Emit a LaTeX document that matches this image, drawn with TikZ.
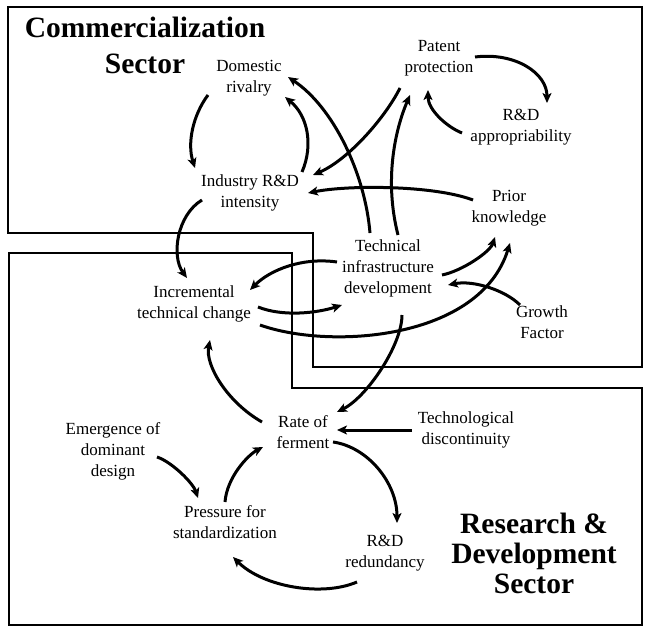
\documentclass[tikz,border=0pt]{standalone}
\usepackage{fontspec}
\setmainfont{Liberation Serif}
\usetikzlibrary{arrows.meta}
\begin{document}
\begin{tikzpicture}[x=1pt,y=-1pt,
  lbl/.style={align=center, font=\fontsize{17}{21}\selectfont, inner sep=1pt},
  ttl/.style={align=center, font=\bfseries\fontsize{29.5}{36}\selectfont, inner sep=0pt},
  arr/.style={-{Stealth[length=10pt,width=9pt,inset=2.5pt]}, line width=3pt},
  sector/.style={line width=1.3pt}]
\useasboundingbox (0,0) rectangle (652,636);
% sectors
\draw[sector] (8,7) -- (642,7) -- (642,367) -- (313,367) -- (313,233) -- (8,233) -- cycle;
\draw[sector] (9,253) -- (292,253) -- (292,388) -- (642,388) -- (642,625) -- (9,625) -- cycle;
% titles
\node[ttl] (commtitle) at (145,45) {Commercialization\\Sector};
\node[ttl,font=\bfseries\fontsize{29.5}{30}\selectfont] (rdtitle) at (534,553) {Research \&\\Development\\Sector};
% nodes
\node[lbl] (dom) at (249,78) {Domestic\\rivalry};
\node[lbl] (pat) at (439,58) {Patent\\protection};
\node[lbl] (app) at (521,127) {R\&D\\appropriability};
\node[lbl] (ind) at (250,193) {Industry R\&D\\intensity};
\node[lbl] (pri) at (509,208) {Prior\\knowledge};
\node[lbl] (tec) at (388,268) {Technical\\infrastructure\\development};
\node[lbl] (inc) at (194,304) {Incremental\\technical change};
\node[lbl] (gro) at (542,322) {Growth\\Factor};
\node[lbl] (rat) at (303,432) {Rate of\\ferment};
\node[lbl] (tdi) at (466,430) {Technological\\discontinuity};
\node[lbl] (emd) at (113,451) {Emergence of\\dominant\\design};
\node[lbl] (pre) at (225,522) {Pressure for\\standardization};
\node[lbl] (red) at (385,553) {R\&D\\redundancy};
% connectors
\draw[arr] ([shift={(-41,17)}]dom.center) .. controls +(-15,20) and +(-8,-25) .. ([shift={(-55,-25)}]ind.center);
\draw[arr] ([shift={(52,-21)}]ind.center) .. controls +(12,-28) and +(22,18) .. ([shift={(36,19)}]dom.center);
\draw[arr] ([shift={(-39,30)}]pat.center) .. controls +(-15,30) and +(35,-15) .. ([shift={(63,-18)}]ind.center);
\draw[arr] ([shift={(10,-33)}]tec.center) .. controls +(-14,-55) and +(-15,35) .. ([shift={(-29,37)}]pat.center);
\draw[arr] ([shift={(-18,-35)}]tec.center) .. controls +(-5,-60) and +(45,30) .. ([shift={(39,-1)}]dom.center);
\draw[arr] ([shift={(-36,-8)}]pri.center) .. controls +(-40,-15) and +(40,-8) .. ([shift={(58,0)}]ind.center);
\draw[arr] ([shift={(36,-1)}]pat.center) .. controls +(40,-5) and +(0,-30) .. ([shift={(26,-24)}]app.center);
\draw[arr] ([shift={(-59,6)}]app.center) .. controls +(-15,-6) and +(0,20) .. ([shift={(-11,32)}]pat.center);
\draw[arr] ([shift={(-48,7)}]ind.center) .. controls +(-25,15) and +(-16,-22) .. ([shift={(-7,-26)}]inc.center);
\draw[arr] ([shift={(-51,-6)}]tec.center) .. controls +(-35,-5) and +(20,-20) .. ([shift={(56,-14)}]inc.center);
\draw[arr] ([shift={(64,3)}]inc.center) .. controls +(25,10) and +(-25,8) .. ([shift={(-46,37)}]tec.center);
\draw[arr] ([shift={(66,21)}]inc.center) .. controls +(70,25) and +(-30,97) .. ([shift={(1,35)}]pri.center);
\draw[arr] ([shift={(54,7)}]tec.center) .. controls +(20,-4) and +(-5,15) .. ([shift={(-14,29)}]pri.center);
\draw[arr] ([shift={(-22,-17)}]gro.center) .. controls +(-15,-15) and +(25,-5) .. ([shift={(60,17)}]tec.center);
\draw[arr] ([shift={(14,47)}]tec.center) .. controls +(0,30) and +(30,-15) .. ([shift={(34,-20)}]rat.center);
\draw[arr] ([shift={(-54,0)}]tdi.center) -- ([shift={(34,-2)}]rat.center);
\draw[arr] ([shift={(30,10)}]rat.center) .. controls +(35,5) and +(0,-40) .. ([shift={(12,-30)}]red.center);
\draw[arr] ([shift={(-28,29)}]red.center) .. controls +(-35,15) and +(30,30) .. ([shift={(8,35)}]pre.center);
\draw[arr] ([shift={(0,-20)}]pre.center) .. controls +(2,-25) and +(-15,8) .. ([shift={(-40,15)}]rat.center);
\draw[arr] ([shift={(44,6)}]emd.center) .. controls +(15,5) and +(-5,-15) .. ([shift={(-27,-24)}]pre.center);
\draw[arr] ([shift={(-41,-10)}]rat.center) .. controls +(-35,-20) and +(-5,25) .. ([shift={(16,36)}]inc.center);
\end{tikzpicture}
\end{document}
